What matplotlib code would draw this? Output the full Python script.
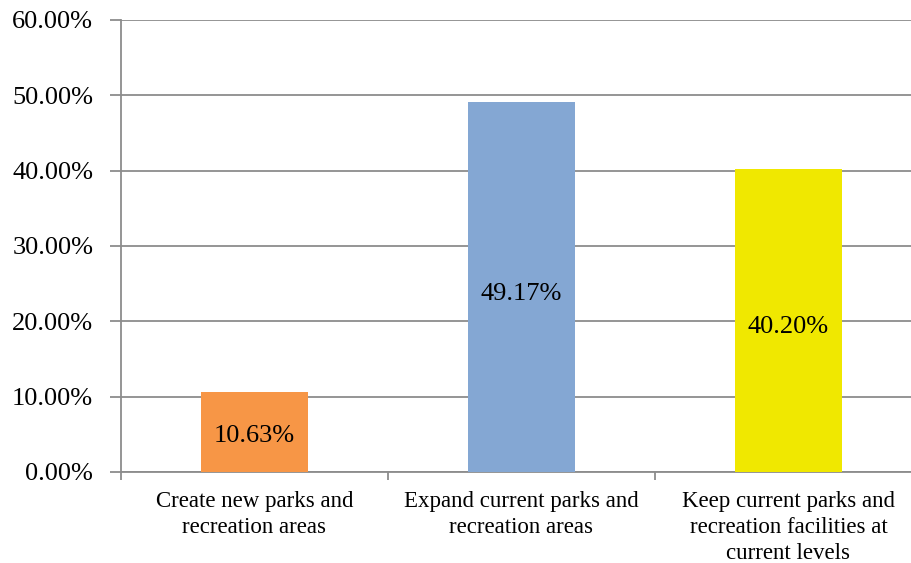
import matplotlib
matplotlib.use("Agg")
import matplotlib.pyplot as plt
import numpy as np

categories = ["Create new parks and\nrecreation areas",
              "Expand current parks and\nrecreation areas",
              "Keep current parks and\nrecreation facilities at\ncurrent levels"]
values = [10.63, 49.17, 40.20]
colors = ["#F79646", "#84A7D3", "#F0E800"]
yticks = [0, 10, 20, 30, 40, 50, 60]

plt.rcParams['font.family'] = ['Liberation Serif', 'DejaVu Serif']

fig = plt.figure(figsize=(9.12, 5.63), dpi=100)
W, H = 912, 563
ax = fig.add_axes([121 / W, 1 - 472 / H, (922 - 121) / W, (472 - 20) / H])
x = np.arange(len(values))
ax.bar(x, values, width=0.4, color=colors, zorder=3)
ax.set_xlim(-0.5, len(values) - 0.5)
ax.set_ylim(0, 60)
ax.set_yticks(yticks)
ax.set_yticklabels([f"{v:.2f}%" for v in yticks], fontsize=19)
ax.yaxis.grid(True, color="#8C8C8C", linewidth=1.3, zorder=0)
ax.tick_params(axis="y", length=8, width=1.3, color="#8C8C8C", pad=12)
ax.set_xticks(np.arange(len(values) + 1) - 0.5, minor=True)
ax.set_xticks(x)
ax.set_xticklabels(categories, fontsize=16.5, linespacing=1.3)
ax.tick_params(axis="x", which="major", length=0, pad=14)
ax.tick_params(axis="x", which="minor", length=6, width=1.3, color="#8C8C8C")
for s in ["top", "right"]:
    ax.spines[s].set_visible(False)
for s in ["left", "bottom"]:
    ax.spines[s].set_color("#8C8C8C")
    ax.spines[s].set_linewidth(1.3)
for xi, v in zip(x, values):
    ax.text(xi, v * 0.48 if v > 20 else v * 0.45, f"{v:.2f}%", ha="center", va="center",
            fontsize=19, zorder=4)
fig.savefig("out.png", dpi=100)
